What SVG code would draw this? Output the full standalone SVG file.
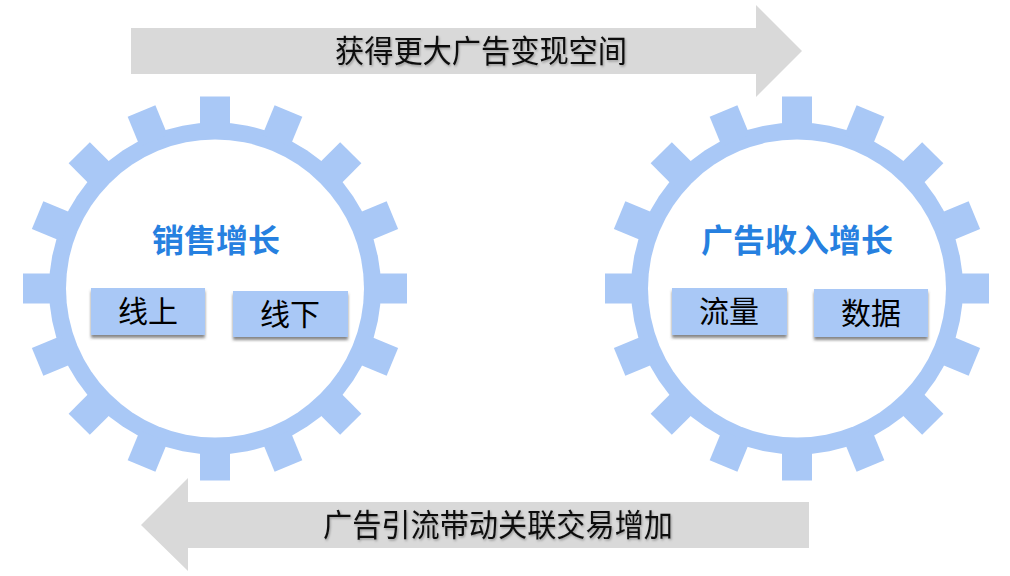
<svg xmlns="http://www.w3.org/2000/svg" xmlns:xlink="http://www.w3.org/1999/xlink" width="1010" height="576" viewBox="0 0 1010 576">
<style>
.gear{fill:#a9c8f6}
.inner{fill:#ffffff}
.arrow{fill:#d9d9d9}
.title{font-family:"Liberation Sans","Noto Sans CJK SC",sans-serif;font-weight:bold;font-size:32px;fill:#2680e0;text-anchor:middle;dominant-baseline:central}
.box{fill:#a9c8f6;filter:url(#shadow)}
.boxt{font-family:"Liberation Sans","Noto Sans CJK SC",sans-serif;font-size:30px;fill:#000;text-anchor:middle;dominant-baseline:central}
.arrt{font-family:"Liberation Sans","Noto Sans CJK SC",sans-serif;font-size:31px;fill:#111;text-anchor:middle;dominant-baseline:central;filter:url(#tshadow)}
</style>
<defs>
<filter id="shadow" x="-10%" y="-20%" width="120%" height="160%">
<feDropShadow dx="0" dy="3" stdDeviation="1.5" flood-color="#555" flood-opacity="0.7"/>
</filter>
<filter id="tshadow" x="-5%" y="-20%" width="110%" height="150%">
<feDropShadow dx="1" dy="1.5" stdDeviation="1" flood-color="#000" flood-opacity="0.3"/>
</filter>
<g id="gearShape">
<circle class="gear" r="166"/>
<g class="gear">
<rect x="-15" y="-192" width="30" height="32" transform="rotate(0)"/>
<rect x="-15" y="-192" width="30" height="32" transform="rotate(22.5)"/>
<rect x="-15" y="-192" width="30" height="32" transform="rotate(45)"/>
<rect x="-15" y="-192" width="30" height="32" transform="rotate(67.5)"/>
<rect x="-15" y="-192" width="30" height="32" transform="rotate(90)"/>
<rect x="-15" y="-192" width="30" height="32" transform="rotate(112.5)"/>
<rect x="-15" y="-192" width="30" height="32" transform="rotate(135)"/>
<rect x="-15" y="-192" width="30" height="32" transform="rotate(157.5)"/>
<rect x="-15" y="-192" width="30" height="32" transform="rotate(180)"/>
<rect x="-15" y="-192" width="30" height="32" transform="rotate(202.5)"/>
<rect x="-15" y="-192" width="30" height="32" transform="rotate(225)"/>
<rect x="-15" y="-192" width="30" height="32" transform="rotate(247.5)"/>
<rect x="-15" y="-192" width="30" height="32" transform="rotate(270)"/>
<rect x="-15" y="-192" width="30" height="32" transform="rotate(292.5)"/>
<rect x="-15" y="-192" width="30" height="32" transform="rotate(315)"/>
<rect x="-15" y="-192" width="30" height="32" transform="rotate(337.5)"/>
</g>
<circle class="inner" r="149"/>
</g>
</defs>

<g id="connectors">
<g id="arrow-top">
<path class="arrow" d="M131,28 L756,28 L756,5 L802,51 L756,97 L756,74 L131,74 Z"/>
<text class="arrt" x="481" y="51" textLength="292" lengthAdjust="spacingAndGlyphs">获得更大广告变现空间</text>
</g>
<g id="arrow-bottom">
<path class="arrow" d="M809,502 L188,502 L188,478 L141,525 L188,571 L188,548 L809,548 Z"/>
<text class="arrt" x="498" y="525" textLength="350" lengthAdjust="spacingAndGlyphs">广告引流带动关联交易增加</text>
</g>
</g>

<g id="gear-sales">
<use xlink:href="#gearShape" href="#gearShape" transform="translate(215,288.5)"/>
<text class="title" x="216" y="241">销售增长</text>
<g id="box-online">
<rect class="box" x="91" y="288" width="114" height="47"/>
<text class="boxt" x="148" y="311">线上</text>
</g>
<g id="box-offline">
<rect class="box" x="233" y="291" width="115" height="46"/>
<text class="boxt" x="290" y="314">线下</text>
</g>
</g>

<g id="gear-ads">
<use xlink:href="#gearShape" href="#gearShape" transform="translate(797,288.5)"/>
<text class="title" x="797" y="241">广告收入增长</text>
<g id="box-traffic">
<rect class="box" x="672" y="288" width="115" height="47"/>
<text class="boxt" x="729" y="311">流量</text>
</g>
<g id="box-data">
<rect class="box" x="814" y="289" width="114" height="48"/>
<text class="boxt" x="871" y="313">数据</text>
</g>
</g>
</svg>
